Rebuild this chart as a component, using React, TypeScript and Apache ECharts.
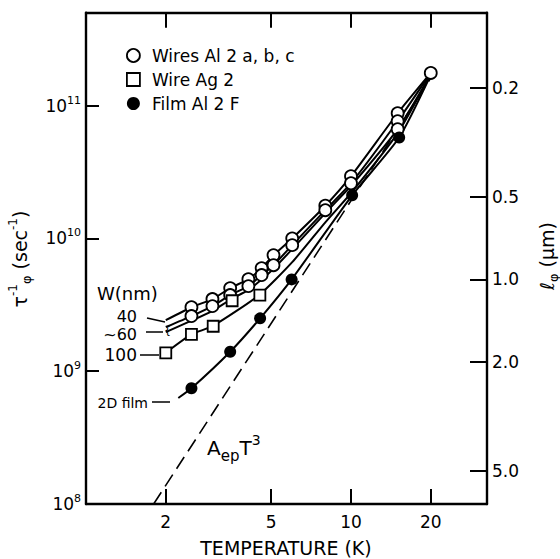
import React, { useEffect, useRef } from 'react';
import * as echarts from 'echarts';

// ---- axis ranges / ticks ----
const T_MIN = 1;
const T_MAX = 32.6;
const RATE_MIN = 1e8;
const RATE_MAX = 5e11;
const LPHI_TOP = 0.1063; // l_phi (um) at the top edge
const LPHI_BOTTOM = 6.6; // l_phi (um) at the bottom edge
const tempTicks = [2, 5, 10, 20];
const lphiTicks = [0.2, 0.5, 1.0, 2.0, 5.0];

// ---- data: Wires Al 2 a, b, c (open circles) ----
const wireAT = [2.5, 3.0, 3.5, 4.1, 4.6, 5.1, 6.0, 8.0, 10, 15, 20];
const wireAVal = [3.03e9, 3.49e9, 4.22e9, 4.93e9, 5.97e9, 7.48e9, 1.0e10, 1.76e10, 2.94e10, 8.75e10, 1.76e11];
const wireBT = [2.5, 3.0, 3.5, 4.1, 4.6, 5.1, 6.0, 8.0, 10, 15];
const wireBVal = [2.6e9, 3.09e9, 3.74e9, 4.37e9, 5.29e9, 6.28e9, 8.89e9, 1.63e10, 2.6e10, 7.62e10];
const wireCT = [15];
const wireCVal = [6.64e10];

// fitted curves through the wire data
const curveT = [2.0, 2.5, 3.0, 3.5, 4.1, 4.6, 5.1, 6.0, 8.0, 10, 15, 20];
const curveA = [2.42e9, 3.03e9, 3.49e9, 4.22e9, 4.93e9, 5.97e9, 7.48e9, 1.0e10, 1.76e10, 2.94e10, 8.75e10, 1.76e11];
const curveB = [2.15e9, 2.6e9, 3.09e9, 3.74e9, 4.37e9, 5.29e9, 6.28e9, 8.89e9, 1.63e10, 2.6e10, 7.62e10, 1.76e11];
const curveC = [1.97e9, 2.4e9, 2.85e9, 3.45e9, 4.1e9, 4.9e9, 5.9e9, 8.3e9, 1.55e10, 2.48e10, 6.64e10, 1.72e11];

// ---- Wire Ag 2 (open squares) ----
const agT = [2.0, 2.5, 3.02, 3.56, 4.53];
const agVal = [1.375e9, 1.89e9, 2.18e9, 3.39e9, 3.74e9];
const agCurveT = [2.0, 2.5, 3.0, 4.5, 6.0, 8.0, 10, 15, 20];
const agCurveVal = [1.375e9, 1.89e9, 2.18e9, 3.74e9, 6.62e9, 1.32e10, 2.19e10, 6.2e10, 1.72e11];

// ---- Film Al 2 F (filled circles) ----
const filmT = [2.5, 3.5, 4.54, 5.97, 10.1, 15.2];
const filmVal = [7.43e8, 1.4e9, 2.5e9, 4.91e9, 2.11e10, 5.74e10];
const filmCurveT = [2.23, 2.5, 3.5, 4.54, 5.97, 10.1, 15.2, 20];
const filmCurveVal = [6.28e8, 7.43e8, 1.4e9, 2.5e9, 4.91e9, 2.11e10, 5.74e10, 1.7e11];

// ---- A_ep T^3 dashed line (end points) ----
const aepT = [1.8, 20];
const aepVal = [1.0e8, 1.61e11];

const FONT = 'DejaVu Sans';
const zip = (xs: number[], ys: number[]) => xs.map((x, i) => [x, ys[i]]);

const hollow = () => ({ color: '#fff', borderColor: '#000', borderWidth: 1.8, opacity: 1 });
const solid = () => ({ color: '#000', borderColor: '#000', borderWidth: 0, opacity: 1 });

export default function App() {
  const ref = useRef<HTMLDivElement>(null);
  useEffect(() => {
    if (!ref.current) return;
    const chart = echarts.init(ref.current, undefined, { renderer: 'svg' });
    const txt = { fontFamily: FONT, color: '#000' };
    const curve = (name: string, data: number[][]) => ({
      name,
      type: 'line',
      data,
      symbol: 'none',
      smooth: 0.2,
      lineStyle: { color: '#000', width: 2 },
      z: 2,
      silent: true,
    });
    const scatter = (name: string, data: number[][], symbol: string, style: any, size: number) => ({
      name,
      type: 'scatter',
      data,
      symbol,
      symbolSize: size,
      itemStyle: style,
      z: 4,
      silent: true,
    });
    const tick = (length: number, customValues?: number[]) => ({
      show: true,
      inside: true,
      length,
      ...(customValues ? { customValues } : {}),
      lineStyle: { color: '#000', width: 2 },
    });
    const frameLine = (show: boolean) => ({ show, onZero: false, lineStyle: { color: '#000', width: 2.4 } });
    const titleRich = {
      t: { fontFamily: FONT, fill: '#000', fontSize: 19, lineHeight: 26 },
      p: { fontFamily: FONT, fill: '#000', fontSize: 12, lineHeight: 12, verticalAlign: 'top' },
      u: { fontFamily: FONT, fill: '#000', fontSize: 13, lineHeight: 13, verticalAlign: 'bottom' },
    };

    chart.setOption({
      animation: false,
      backgroundColor: '#fff',
      grid: { left: 86, right: 73, top: 12.7, bottom: 55, containLabel: false, outerBoundsMode: 'none' },
      legend: {
        orient: 'vertical',
        left: 121,
        top: 42,
        itemWidth: 13,
        itemHeight: 13,
        itemGap: 7,
        selectedMode: false,
        textStyle: { ...txt, fontSize: 17, padding: [0, 0, 0, 7] },
        data: [
          { name: 'Wires Al 2 a, b, c', icon: 'circle', itemStyle: hollow() },
          { name: 'Wire Ag 2', icon: 'rect', itemStyle: hollow() },
          { name: 'Film Al 2 F', icon: 'circle', itemStyle: solid() },
        ],
      },
      xAxis: [
        {
          type: 'log',
          min: T_MIN,
          max: T_MAX,
          position: 'bottom',
          axisLine: frameLine(true),
          axisTick: { show: false },
          axisLabel: { show: false },
          splitLine: { show: false },
        },
        {
          type: 'value',
          min: 0,
          max: Math.log10(T_MAX),
          position: 'bottom',
          axisLine: frameLine(false),
          axisTick: tick(15, tempTicks.map(Math.log10)),
          axisLabel: {
            show: true,
            margin: 9,
            customValues: tempTicks.map(Math.log10),
            formatter: (v: number) => String(Math.round(Math.pow(10, v))),
            ...txt,
            fontSize: 17,
          },
          splitLine: { show: false },
        },
        {
          type: 'value',
          min: 0,
          max: Math.log10(T_MAX),
          position: 'top',
          axisLine: frameLine(true),
          axisTick: tick(15, tempTicks.map(Math.log10)),
          axisLabel: { show: false },
          splitLine: { show: false },
        },
      ],
      yAxis: [
        {
          type: 'log',
          min: RATE_MIN,
          max: RATE_MAX,
          position: 'left',
          axisLine: frameLine(true),
          axisTick: tick(13),
          splitLine: { show: false },
          axisLabel: {
            margin: 5,
            showMaxLabel: false,
            formatter: (v: number) => {
              const l = Math.log10(v);
              const e = Math.round(l);
              if (Math.abs(l - e) > 0.01) return '';
              return `{b|10}{s|${e}}`;
            },
            rich: {
              b: { ...txt, fontSize: 17, lineHeight: 22 },
              s: { ...txt, fontSize: 11, lineHeight: 11, verticalAlign: 'top' },
            },
          },
        },
        {
          type: 'value',
          min: Math.log10(LPHI_TOP),
          max: Math.log10(LPHI_BOTTOM),
          inverse: true,
          position: 'right',
          axisLine: frameLine(true),
          axisTick: tick(17, lphiTicks.map(Math.log10)),
          axisLabel: {
            show: true,
            margin: 5,
            customValues: lphiTicks.map(Math.log10),
            formatter: (v: number) => Math.pow(10, v).toFixed(1),
            ...txt,
            fontSize: 17,
          },
          splitLine: { show: false },
        },
      ],
      graphic: [
        // axis titles
        {
          type: 'text',
          x: 20,
          y: 259,
          rotation: Math.PI / 2,
          style: { text: '{t|τ}{p|-1}{u|φ}{t| (sec}{p|-1}{t|)}', rich: titleRich, align: 'center', verticalAlign: 'middle' },
        },
        {
          type: 'text',
          x: 547,
          y: 256,
          rotation: Math.PI / 2,
          style: { text: '{t|ℓ}{u|φ}{t| (μm)}', rich: titleRich, align: 'center', verticalAlign: 'middle' },
        },
        {
          type: 'text',
          x: 286,
          y: 548,
          style: { text: 'TEMPERATURE (K)', font: `19px "${FONT}"`, fill: '#000', align: 'center', verticalAlign: 'middle' },
        },
        // annotations
        { type: 'text', x: 97, y: 293, style: { text: 'W(nm)', font: `18px "${FONT}"`, fill: '#000', align: 'left', verticalAlign: 'middle' } },
        { type: 'text', x: 137, y: 316, style: { text: '40', font: `16px "${FONT}"`, lineHeight: 13, fill: '#000', align: 'right', verticalAlign: 'middle' } },
        { type: 'line', shape: { x1: 147, y1: 318, x2: 165, y2: 322 }, style: { stroke: '#000', lineWidth: 1.5 } },
        { type: 'text', x: 137, y: 334, style: { text: '~60', font: `16px "${FONT}"`, lineHeight: 13, fill: '#000', align: 'right', verticalAlign: 'middle' } },
        { type: 'line', shape: { x1: 146, y1: 332, x2: 163, y2: 332 }, style: { stroke: '#000', lineWidth: 1.5 } },
        { type: 'text', x: 164, y: 330, style: { text: '{', font: `11px "${FONT}"`, fill: '#000', align: 'left', verticalAlign: 'middle' } },
        { type: 'text', x: 137, y: 355, style: { text: '100', font: `17px "${FONT}"`, lineHeight: 14, fill: '#000', align: 'right', verticalAlign: 'middle' } },
        { type: 'line', shape: { x1: 140, y1: 355, x2: 159, y2: 355 }, style: { stroke: '#000', lineWidth: 1.5 } },
        { type: 'text', x: 148, y: 403, style: { text: '2D film', font: `14px "${FONT}"`, fill: '#000', align: 'right', verticalAlign: 'middle' } },
        { type: 'line', shape: { x1: 152, y1: 402, x2: 170, y2: 402 }, style: { stroke: '#000', lineWidth: 1.5 } },
        {
          type: 'text',
          x: 207,
          y: 448,
          style: {
            text: '{a|A}{s|ep}{a|T}{p|3}',
            align: 'left',
            verticalAlign: 'middle',
            rich: {
              a: { fontFamily: FONT, fill: '#000', fontSize: 20, lineHeight: 30 },
              s: { fontFamily: FONT, fill: '#000', fontSize: 15, lineHeight: 15, verticalAlign: 'bottom' },
              p: { fontFamily: FONT, fill: '#000', fontSize: 14, lineHeight: 14, verticalAlign: 'top' },
            },
          },
        },
      ],
      series: [
        {
          name: 'AepT3',
          type: 'line',
          data: zip(aepT, aepVal),
          symbol: 'none',
          lineStyle: { color: '#000', width: 1.6, type: [14, 7] },
          z: 1,
          silent: true,
        },
        curve('curve 40', zip(curveT, curveA)),
        curve('curve 60 b', zip(curveT, curveB)),
        curve('curve 60 c', zip(curveT, curveC)),
        curve('curve Ag', zip(agCurveT, agCurveVal)),
        curve('curve film', zip(filmCurveT, filmCurveVal)),
        scatter('Wires Al 2 a, b, c', zip(wireAT, wireAVal), 'circle', hollow(), 12),
        scatter('Wires Al 2 a, b, c', zip(wireBT, wireBVal), 'circle', hollow(), 12),
        scatter('Wires Al 2 a, b, c', zip(wireCT, wireCVal), 'circle', hollow(), 12),
        scatter('Wire Ag 2', zip(agT, agVal), 'rect', hollow(), 11),
        scatter('Film Al 2 F', zip(filmT, filmVal), 'circle', solid(), 12),
      ],
    });
    return () => chart.dispose();
  }, []);
  return (
    <div
      ref={ref}
      style={{ position: 'fixed', left: 0, top: 0, width: 560, height: 559, background: '#fff' }}
    />
  );
}
